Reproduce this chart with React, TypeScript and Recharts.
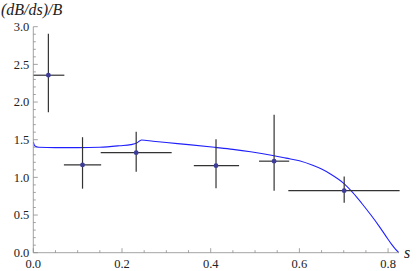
import React from "react";
import { ComposedChart, Line, Scatter, ErrorBar, XAxis, YAxis } from "recharts";

// measured bins (s centre, value, horizontal and vertical extents)
const binCentre = [0.034, 0.111, 0.232, 0.412, 0.543, 0.701];
const binValue = [2.356, 1.165, 1.328, 1.155, 1.215, 0.823];
const binLow = [0.0, 0.069, 0.152, 0.362, 0.509, 0.575];
const binHigh = [0.07, 0.153, 0.312, 0.464, 0.577, 0.826];
const valueLow = [1.865, 0.85, 1.074, 0.855, 0.822, 0.664];
const valueHigh = [2.905, 1.533, 1.605, 1.505, 1.83, 1.01];

// theory curve
const curveS = [
  0, 0.003, 0.012, 0.05, 0.1, 0.15, 0.195, 0.22, 0.233, 0.244, 0.27, 0.3, 0.35, 0.41, 0.45, 0.49,
  0.54, 0.57, 0.6, 0.63, 0.65, 0.67, 0.7, 0.72, 0.74, 0.76, 0.78, 0.795, 0.808, 0.817, 0.8246,
];
const curveV = [
  1.47, 1.42, 1.4, 1.395, 1.395, 1.4, 1.42, 1.435, 1.455, 1.497, 1.48, 1.462, 1.435, 1.398, 1.372,
  1.34, 1.29, 1.255, 1.22, 1.16, 1.11, 1.045, 0.92, 0.8, 0.66, 0.51, 0.35, 0.22, 0.11, 0.045, 0,
];

const xTicks = [0, 0.05, 0.1, 0.15, 0.2, 0.25, 0.3, 0.35, 0.4, 0.45, 0.5, 0.55, 0.6, 0.65, 0.7, 0.75, 0.8];
const yTicks = [
  0, 0.1, 0.2, 0.3, 0.4, 0.5, 0.6, 0.7, 0.8, 0.9, 1.0, 1.1, 1.2, 1.3, 1.4, 1.5, 1.6, 1.7, 1.8, 1.9, 2.0,
  2.1, 2.2, 2.3, 2.4, 2.5, 2.6, 2.7, 2.8, 2.9, 3.0,
];

const FONT = "Liberation Serif";
const AXIS = "#8c8c8c";
const INK = "#222";

const curveData = curveS.map((s, i) => ({ s, v: curveV[i] }));
const points = binCentre.map((s, i) => ({
  s,
  y: binValue[i],
  ex: [s - binLow[i], binHigh[i] - s],
  ey: [binValue[i] - valueLow[i], valueHigh[i] - binValue[i]],
}));

function XTick(props: any) {
  const { x, y, payload } = props;
  const v = payload.value as number;
  const major = Math.round(v * 20) % 4 === 0;
  return (
    <g>
      <line x1={x} x2={x} y1={y} y2={y - (major ? 4.5 : 2.5)} stroke={AXIS} strokeWidth={0.8} />
      {major && (
        <text x={x} y={y + 15.5} textAnchor="middle" fontFamily={FONT} fontSize={12.5} fill={INK}>
          {v.toFixed(1)}
        </text>
      )}
    </g>
  );
}

function YTick(props: any) {
  const { x, y, payload } = props;
  const v = payload.value as number;
  const major = Math.round(v * 10) % 5 === 0;
  return (
    <g>
      <line x1={x} x2={x + (major ? 4.5 : 2.5)} y1={y} y2={y} stroke={AXIS} strokeWidth={0.8} />
      {major && (
        <text x={x - 4} y={y + 4.3} textAnchor="end" fontFamily={FONT} fontSize={12.5} fill={INK}>
          {v.toFixed(1)}
        </text>
      )}
    </g>
  );
}

const dot = (p: any) => <circle cx={p.cx} cy={p.cy} r={2.4} fill="#3d3d99" />;

export default function App() {
  return (
    <div style={{ position: "absolute", left: 0, top: 0, width: 417, height: 271, background: "#fff" }}>
      <ComposedChart
        width={417}
        height={271}
        margin={{ top: 26.7, right: 18, bottom: 0, left: 0 }}
      >
        <XAxis
          type="number"
          dataKey="s"
          domain={[0, 0.8246]}
          ticks={xTicks}
          interval={0}
          height={18.3}
          tickSize={0}
          tickMargin={0}
          tickLine={false}
          axisLine={{ stroke: AXIS, strokeWidth: 0.8 }}
          tick={<XTick />}
          allowDataOverflow
        />
        <YAxis
          type="number"
          domain={[0, 3]}
          ticks={yTicks}
          interval={0}
          width={33.3}
          tickSize={0}
          tickMargin={0}
          tickLine={false}
          axisLine={{ stroke: AXIS, strokeWidth: 0.8 }}
          tick={<YTick />}
          allowDataOverflow
        />
        <Line
          data={curveData}
          dataKey="v"
          type="monotone"
          stroke="#2020ff"
          strokeWidth={1.1}
          dot={false}
          activeDot={false}
          isAnimationActive={false}
        />
        <Scatter data={points} dataKey="y" shape={dot} isAnimationActive={false}>
          <ErrorBar dataKey="ey" direction="y" width={0} stroke="#333" strokeWidth={1.2} isAnimationActive={false} />
          <ErrorBar dataKey="ex" direction="x" width={0} stroke="#333" strokeWidth={1.2} isAnimationActive={false} />
        </Scatter>
      </ComposedChart>
      <span
        style={{
          position: "absolute",
          left: 1,
          top: 2,
          fontFamily: FONT,
          fontStyle: "italic",
          fontSize: 16,
          color: INK,
          whiteSpace: "nowrap",
          lineHeight: "16px",
        }}
      >
        (dB/ds)/B
      </span>
      <span
        style={{
          position: "absolute",
          left: 404,
          top: 245,
          fontFamily: FONT,
          fontStyle: "italic",
          fontSize: 16,
          color: INK,
          lineHeight: "16px",
        }}
      >
        s
      </span>
    </div>
  );
}
